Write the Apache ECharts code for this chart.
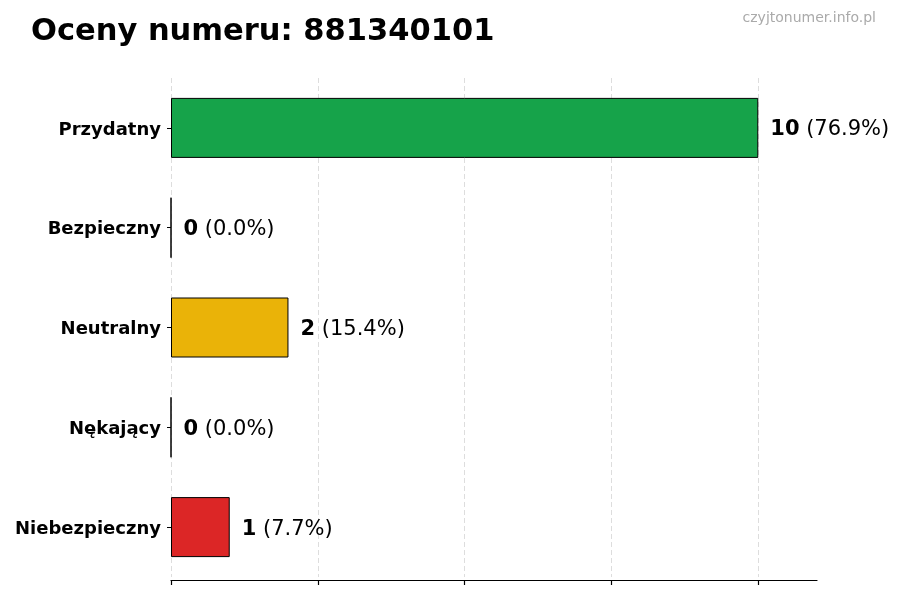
<!DOCTYPE html>
<html>
<head>
<meta charset="utf-8">
<script src="https://cdn.jsdelivr.net/npm/echarts@6/dist/echarts.min.js"></script>
<style>
  html, body { margin: 0; padding: 0; background: #fff; }
  #main { width: 900px; height: 600px; }
</style>
</head>
<body>
<div id="main"></div>
<script>
// dane z wykresu (od góry do dołu)
var categories = ['Przydatny', 'Bezpieczny', 'Neutralny', 'Nękający', 'Niebezpieczny'];
var counts = [10, 0, 2, 0, 1];
var barColors = ['#16a34a', '#3b82f6', '#eab308', '#f97316', '#dc2626'];
var xTicks = [0, 2.5, 5, 7.5, 10];

var total = counts.reduce(function (a, b) { return a + b; }, 0);

var myChart = echarts.init(document.getElementById('main'));
var font = 'DejaVu Sans';

myChart.setOption({
    animation: false,
    textStyle: { fontFamily: font },
    title: [{
        text: 'Oceny numeru: 881340101',
        left: 26,
        top: 12,
        textStyle: { fontFamily: font, fontSize: 30.5, fontWeight: 'bold', color: '#000' }
    }, {
        text: 'czyjtonumer.info.pl',
        right: 19,
        top: 6,
        textStyle: { fontFamily: font, fontSize: 14, fontWeight: 'normal', color: '#aaaaaa' }
    }],
    grid: [
        // główna siatka z słupkami, oś do 11
        { left: 171, right: 83, top: 78, bottom: 23 },
        // siatka pomocnicza tylko dla podziałki 0..10
        { left: 171, width: 587, top: 78, bottom: 23 }
    ],
    xAxis: [{
        type: 'value',
        gridIndex: 0,
        min: 0,
        max: 11,
        offset: 3,
        axisLine: { show: true, lineStyle: { color: '#000', width: 1.2 } },
        axisTick: { show: false },
        axisLabel: { show: false },
        splitLine: { show: false }
    }, {
        type: 'value',
        gridIndex: 1,
        min: xTicks[0],
        max: xTicks[xTicks.length - 1],
        interval: 2.5,
        offset: 3,
        axisLine: { show: false },
        axisTick: { show: true, length: 5, lineStyle: { color: '#000', width: 1.2 } },
        axisLabel: { show: false },
        splitLine: { show: true, lineStyle: { color: '#d4d4d4', type: [5, 3], width: 0.8 } }
    }],
    yAxis: [{
        type: 'category',
        gridIndex: 0,
        data: categories,
        inverse: true,
        axisLine: { show: false },
        axisTick: { show: true, alignWithLabel: true, length: 4, lineStyle: { color: '#000' } },
        axisLabel: {
            margin: 10,
            formatter: function (v) { return '{a|' + v + '}'; },
            rich: {
                a: {
                    fontFamily: font, fontSize: 18, fontWeight: 'bold', color: '#000',
                    padding: [4, 0, 0, 0]
                }
            }
        },
        splitLine: { show: false }
    }, {
        type: 'category',
        gridIndex: 1,
        data: categories,
        show: false
    }],
    series: [{
        type: 'bar',
        xAxisIndex: 0,
        yAxisIndex: 0,
        barWidth: 60,
        data: counts.map(function (v, i) {
            return { value: v, itemStyle: { color: barColors[i] } };
        }),
        itemStyle: { borderColor: '#000', borderWidth: 1 },
        label: {
            show: true,
            position: 'right',
            distance: 12,
            padding: [4, 0, 0, 0],
            formatter: function (p) {
                var pct = (p.value / total * 100).toFixed(1);
                return '{b|' + p.value + '}{n| (' + pct + '%)}';
            },
            rich: {
                b: { fontFamily: font, fontSize: 21, fontWeight: 'bold', color: '#000' },
                n: { fontFamily: font, fontSize: 21, color: '#000' }
            }
        }
    }]
});
</script>
</body>
</html>
